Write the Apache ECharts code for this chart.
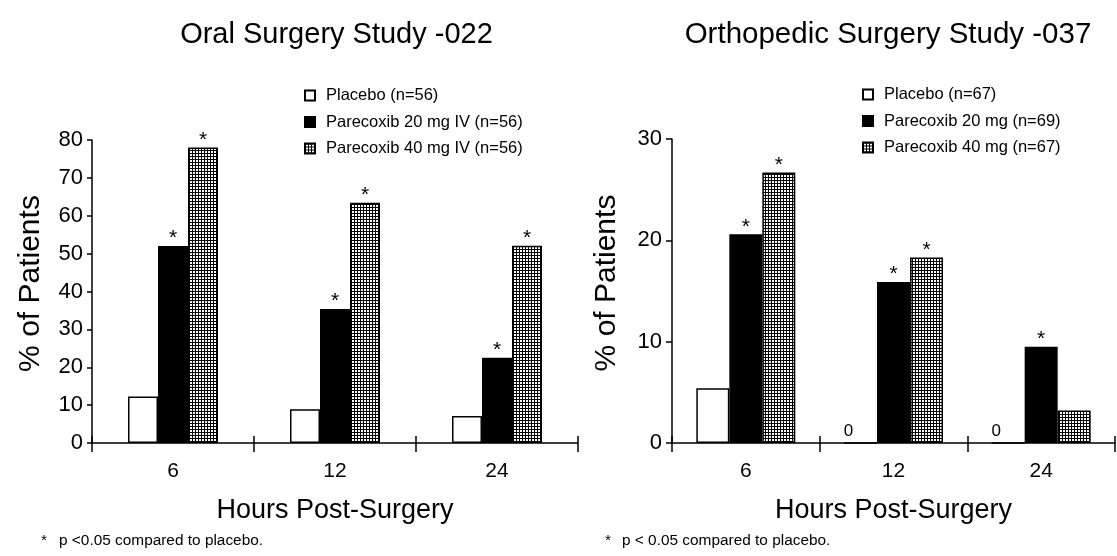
<!DOCTYPE html>
<html>
<head>
<meta charset="utf-8">
<script src="https://cdn.jsdelivr.net/npm/echarts@6/dist/echarts.min.js"></script>
<style>
html,body{margin:0;padding:0;background:#fff;}
#chart{width:1117px;height:556px;}
</style>
</head>
<body>
<div id="chart"></div>
<script>
// ---------- data ----------
const categories = ['6', '12', '24'];

const oralTitle = 'Oral Surgery Study -022';
const oralNames = ['Placebo (n=56)', 'Parecoxib 20 mg IV (n=56)', 'Parecoxib 40 mg IV (n=56)'];
const oralPlacebo = [12.3, 8.9, 7.1];
const oral20 = [52.0, 35.4, 22.5];
const oral40 = [78.0, 63.4, 52.1];
const oralSig20 = [true, true, true];
const oralSig40 = [true, true, true];
const oralYMax = 80;

const orthoTitle = 'Orthopedic Surgery Study -037';
const orthoNames = ['Placebo (n=67)', 'Parecoxib 20 mg (n=69)', 'Parecoxib 40 mg (n=67)'];
const orthoPlacebo = [5.4, 0, 0];
const ortho20 = [20.6, 15.9, 9.5];
const ortho40 = [26.7, 18.3, 3.2];
const orthoSig20 = [true, true, true];
const orthoSig40 = [true, true, false];
const orthoYMax = 30;

const yInterval = 10;
const yAxisName = '% of Patients';
const xAxisName = 'Hours Post-Surgery';
const oralFootnote = 'p <0.05 compared to placebo.';
const orthoFootnote = 'p < 0.05 compared to placebo.';

// ---------- styling ----------
const FONT = '"Liberation Sans", Arial, Helvetica, sans-serif';
const INK = '#000';

// fine grid pattern for the 40 mg bars
const pc = document.createElement('canvas');
pc.width = 3; pc.height = 3;
const pctx = pc.getContext('2d');
pctx.fillStyle = '#fff'; pctx.fillRect(0, 0, 3, 3);
pctx.fillStyle = '#000'; pctx.fillRect(0, 0, 3, 1); pctx.fillRect(0, 0, 1, 3);
const gridPattern = { image: pc, repeat: 'repeat' };

const fills = ['#fff', '#000', gridPattern];

function starData(values, sig) {
  return values.map((v, i) => ({
    value: v,
    label: { show: !!(sig && sig[i]), formatter: '*' }
  }));
}
function zeroData(values) {
  return values.map(v => ({
    value: v,
    label: { show: v === 0, formatter: '0', position: 'top', distance: 2, offset: [-12, 0], fontSize: 17 }
  }));
}

function makeSeries(name, data, fillIdx, axisIdx, barWidth) {
  return {
    name: name,
    type: 'bar',
    xAxisIndex: axisIdx,
    yAxisIndex: axisIdx,
    barWidth: barWidth,
    barGap: '0%',
    data: data,
    itemStyle: { color: fills[fillIdx], borderColor: INK, borderWidth: 1.5 },
    label: { show: false, position: 'top', distance: -3, fontSize: 21, color: INK, fontFamily: FONT },
    emphasis: { disabled: true },
    animation: false
  };
}

function xAxes(gridIndex) {
  const base = {
    type: 'category',
    gridIndex: gridIndex,
    data: categories,
    position: 'bottom',
    boundaryGap: true
  };
  return [
    Object.assign({}, base, {
      name: xAxisName,
      nameLocation: 'middle',
      nameGap: 54,
      nameTextStyle: { fontSize: 27, color: INK, fontFamily: FONT },
      axisLine: { onZero: false, lineStyle: { color: INK, width: 1.5 } },
      axisTick: { show: true, length: 9, lineStyle: { color: INK, width: 1.5 } },
      axisLabel: { fontSize: 21, color: INK, fontFamily: FONT, margin: 18 }
    }),
    Object.assign({}, base, {
      axisLine: { show: true, onZero: false, lineStyle: { color: 'rgba(0,0,0,0)', width: 1 } },
      axisTick: { show: true, inside: true, length: 7, lineStyle: { color: INK, width: 1.5 } },
      axisLabel: { show: false }
    })
  ];
}

function yAxis(gridIndex, max, nameGap, tickLen, margin) {
  return {
    type: 'value',
    gridIndex: gridIndex,
    min: 0,
    max: max,
    interval: yInterval,
    name: yAxisName,
    nameLocation: 'middle',
    nameGap: nameGap,
    nameTextStyle: { fontSize: 30, color: INK, fontFamily: FONT, padding: [0, 0, 0, 16] },
    axisLine: { show: true, lineStyle: { color: INK, width: 1.5 } },
    axisTick: { show: true, length: tickLen, lineStyle: { color: INK, width: 1.5 } },
    axisLabel: { fontSize: 22, color: INK, fontFamily: FONT, margin: margin },
    splitLine: { show: false }
  };
}

const chart = echarts.init(document.getElementById('chart'), null, { renderer: 'canvas' });

const oralX = xAxes(0);
const orthoX = xAxes(1);

const option = {
  backgroundColor: '#fff',
  animation: false,
  textStyle: { fontFamily: FONT, color: INK },
  title: [
    { text: oralTitle, left: 331.5, top: 15, textAlign: 'center',
      textStyle: { fontSize: 29, fontWeight: 'normal', color: INK, fontFamily: FONT } },
    { text: orthoTitle, left: 883, top: 15, textAlign: 'center',
      textStyle: { fontSize: 29.5, fontWeight: 'normal', color: INK, fontFamily: FONT } }
  ],
  legend: [
    { data: oralNames, orient: 'vertical', left: 304, top: 87, padding: 0,
      itemWidth: 10, itemHeight: 10, itemGap: 9.5, icon: 'rect',
      selectedMode: false,
      textStyle: { fontSize: 16.5, color: INK, fontFamily: FONT, padding: [0, 0, 0, 6] } },
    { data: orthoNames, orient: 'vertical', left: 862, top: 86, padding: 0,
      itemWidth: 10, itemHeight: 10, itemGap: 9.5, icon: 'rect',
      selectedMode: false,
      textStyle: { fontSize: 16.5, color: INK, fontFamily: FONT, padding: [0, 0, 0, 6] } }
  ],
  grid: [
    { left: 92, top: 140, width: 486, height: 303, containLabel: false, outerBoundsMode: 'none' },
    { left: 672, top: 139, width: 443, height: 304, containLabel: false, outerBoundsMode: 'none' }
  ],
  xAxis: [oralX[0], orthoX[0], oralX[1], orthoX[1]],
  yAxis: [
    yAxis(0, oralYMax, 46, 5, 9),
    yAxis(1, orthoYMax, 50, 6, 10)
  ],
  graphic: [
    { type: 'text', left: 41, top: 533, style: { text: '*', fontSize: 15.4, fill: INK, fontFamily: FONT } },
    { type: 'text', left: 59, top: 533, style: { text: oralFootnote, fontSize: 15.4, fill: INK, fontFamily: FONT } },
    { type: 'text', left: 605, top: 533, style: { text: '*', fontSize: 15.4, fill: INK, fontFamily: FONT } },
    { type: 'text', left: 622, top: 533, style: { text: orthoFootnote, fontSize: 15.4, fill: INK, fontFamily: FONT } }
  ],
  series: [
    makeSeries(oralNames[0], oralPlacebo.slice(), 0, 0, 30),
    makeSeries(oralNames[1], starData(oral20, oralSig20), 1, 0, 30),
    makeSeries(oralNames[2], starData(oral40, oralSig40), 2, 0, 30),
    makeSeries(orthoNames[0], zeroData(orthoPlacebo), 0, 1, 33),
    makeSeries(orthoNames[1], starData(ortho20, orthoSig20), 1, 1, 33),
    makeSeries(orthoNames[2], starData(ortho40, orthoSig40), 2, 1, 33)
  ]
};

chart.setOption(option);
</script>
</body>
</html>
